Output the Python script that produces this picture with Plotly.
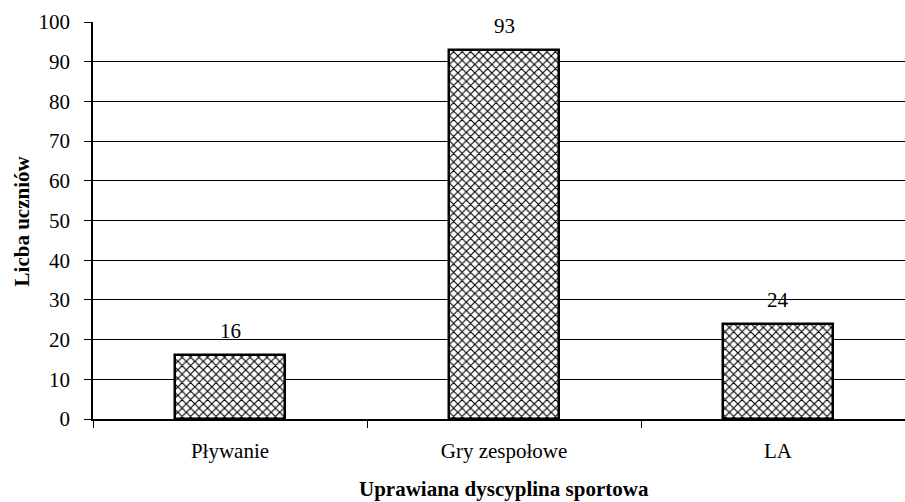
import plotly.graph_objects as go

categories = ["Pływanie", "Gry zespołowe", "LA"]
values = [16, 93, 24]
y_ticks = [0, 10, 20, 30, 40, 50, 60, 70, 80, 90, 100]
x_title = "Uprawiana dyscyplina sportowa"
y_title = "Licba uczniów"

FONT = "Liberation Serif"

fig = go.Figure()
fig.add_trace(go.Bar(
    x=categories, y=values, width=0.405,
    marker=dict(color="white",
                line=dict(color="black", width=2.5),
                pattern=dict(shape="x", size=6, solidity=0.35,
                             fgcolor="black", bgcolor="white", fillmode="replace")),
    showlegend=False,
))

for c, v in zip(categories, values):
    fig.add_annotation(x=c, y=v, text=str(v), showarrow=False,
                       yanchor="middle", yshift=24,
                       font=dict(family=FONT, size=21, color="black"))

fig.add_annotation(x=1, y=-0.176, xref="x", yref="paper", text="<b>" + x_title + "</b>",
                   showarrow=False, yanchor="middle",
                   font=dict(family=FONT, size=21, color="black"))
fig.add_annotation(x=-0.0875, y=0.5, xref="paper", yref="paper", text="<b>" + y_title + "</b>",
                   showarrow=False, textangle=-90, xanchor="center", yanchor="middle",
                   font=dict(family=FONT, size=21, color="black"))

fig.update_layout(
    width=905, height=502,
    margin=dict(l=93, r=0, t=22, b=83),
    paper_bgcolor="white", plot_bgcolor="white",
    font=dict(family=FONT, size=21, color="black"),
    xaxis=dict(type="category", range=[-0.5, 2.4635],
               showline=True, linecolor="black", linewidth=1.5,
               ticks="outside", ticklen=7, tickcolor="black", tickwidth=1,
               tickson="boundaries", showgrid=False,
               ticklabelstandoff=12,
               tickfont=dict(family=FONT, size=21, color="black")),
    yaxis=dict(range=[0, 100], tickvals=y_ticks,
               showline=True, linecolor="black", linewidth=1.5,
               ticks="outside", ticklen=7, tickcolor="black", tickwidth=1,
               showgrid=True, gridcolor="black", gridwidth=1,
               zeroline=False, ticklabelstandoff=10,
               tickfont=dict(family=FONT, size=21, color="black")),
    bargap=0,
)

fig.write_html("out.html", config={"displayModeBar": False},
               post_script="document.body.style.margin='0';document.body.style.overflow='hidden';")
